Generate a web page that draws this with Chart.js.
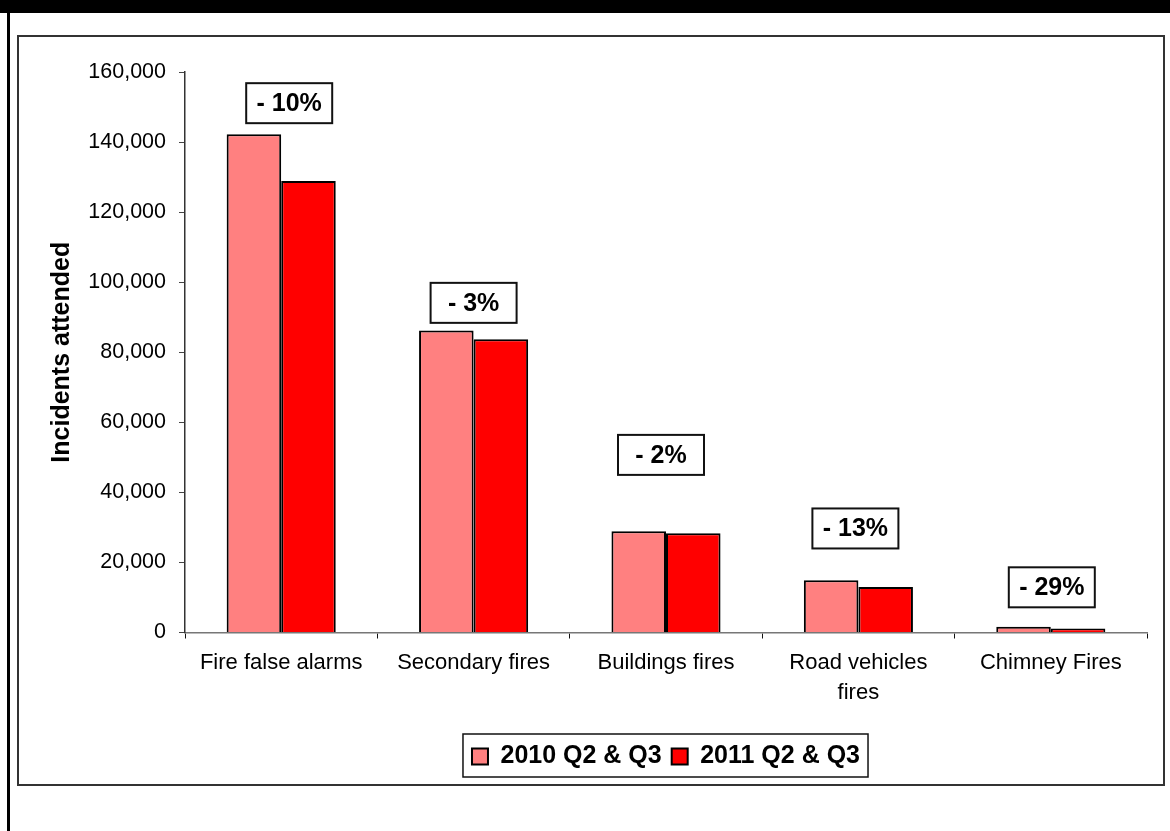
<!DOCTYPE html>
<html>
<head>
<meta charset="utf-8">
<title>Incidents attended</title>
<script src="https://cdn.jsdelivr.net/npm/chart.js@4/dist/chart.umd.min.js"></script>
<style>
    html, body {
        margin: 0;
        padding: 0;
        background: #fff;
        width: 1170px;
        height: 831px;
        overflow: hidden;
        position: relative;
    }
    .top-bar {
        position: absolute;
        left: 0; top: 0;
        width: 1170px; height: 13px;
        background: #000;
    }
    .left-rule {
        position: absolute;
        left: 7px; top: 0;
        width: 3px; height: 831px;
        background: #000;
    }
    .chart-frame {
        position: absolute;
        left: 17px; top: 35px;
        width: 1144px; height: 747px;
        border: 2px solid #333;
    }
    #chart {
        position: absolute;
        left: 0; top: 0;
    }
</style>
</head>
<body>
<div class="top-bar"></div>
<div class="left-rule"></div>
<div class="chart-frame"></div>
<canvas id="chart" width="1170" height="831"></canvas>

<script>
// Incident categories and totals for the two half-year periods
const categories = ['Fire false alarms', 'Secondary fires', 'Buildings fires', ['Road vehicles', 'fires'], 'Chimney Fires'];
const incidents2010 = [142200, 86200, 28900, 14900, 1650];
const incidents2011 = [128900, 83700, 28300, 13000, 1150];
const seriesNames = ['2010 Q2 & Q3', '2011 Q2 & Q3'];

// Change annotations, and the axis level each box sits at
const changeLabels = ['- 10%', '- 3%', '- 2%', '- 13%', '- 29%'];
const changeLabelLevels = [151100, 94100, 50700, 29700, 12900];

const yTicks = [0, 20000, 40000, 60000, 80000, 100000, 120000, 140000, 160000];

// small horizontal nudges for the change boxes (px)
const changeLabelShift = [8, 0, -5, -3, 1];

const FONT = "'Liberation Sans', Arial, sans-serif";

const changeBoxes = {
    id: 'changeBoxes',
    afterDatasetsDraw(chart) {
        const ctx = chart.ctx;
        const xs = chart.scales.x;
        const ys = chart.scales.y;
        ctx.save();
        ctx.font = 'bold 25px ' + FONT;
        ctx.textAlign = 'center';
        ctx.textBaseline = 'middle';
        changeLabels.forEach((txt, i) => {
            const cx = xs.getPixelForValue(i) + changeLabelShift[i];
            const cy = ys.getPixelForValue(changeLabelLevels[i]);
            const w = 86, h = 40;
            ctx.fillStyle = '#fff';
            ctx.fillRect(cx - w / 2, cy - h / 2, w, h);
            ctx.lineWidth = 2;
            ctx.strokeStyle = '#111';
            ctx.strokeRect(cx - w / 2, cy - h / 2, w, h);
            ctx.fillStyle = '#000';
            ctx.fillText(txt, cx, cy + 1);
        });
        ctx.restore();
    },
    afterDraw(chart) {
        // frame round the legend items
        const boxes = chart.legend.legendHitBoxes;
        if (!boxes || !boxes.length) return;
        const first = boxes[0];
        const last = boxes[boxes.length - 1];
        const ctx = chart.ctx;
        ctx.save();
        ctx.lineWidth = 1.5;
        ctx.strokeStyle = '#111';
        const left = first.left - 9;
        const right = last.left + last.width + 8;
        const top = first.top - 10;
        const bottom = first.top + first.height + 8;
        ctx.strokeRect(left, top, right - left, bottom - top);
        ctx.restore();
    }
};

new Chart(document.getElementById('chart').getContext('2d'), {
    type: 'bar',
    data: {
        labels: categories,
        datasets: [{
            label: seriesNames[0],
            data: incidents2010,
            backgroundColor: '#FF8080',
            borderColor: '#000',
            borderWidth: 2
        }, {
            label: seriesNames[1],
            data: incidents2011,
            backgroundColor: '#FF0000',
            borderColor: '#000',
            borderWidth: 2
        }]
    },
    options: {
        responsive: false,
        animation: false,
        events: [],
        layout: {
            padding: { left: 43, right: 23, top: 72, bottom: 52 }
        },
        datasets: {
            bar: {
                categoryPercentage: 0.567,
                barPercentage: 1.0
            }
        },
        scales: {
            x: {
                grid: {
                    offset: true,
                    drawOnChartArea: false,
                    drawTicks: true,
                    tickLength: 6,
                    color: '#111'
                },
                border: { color: '#777', width: 1.5 },
                ticks: {
                    color: '#000',
                    padding: 10,
                    maxRotation: 0,
                    font: { family: FONT, size: 22, lineHeight: 1.35 }
                },
                afterFit(scale) { scale.height = 101.5; }
            },
            y: {
                min: 0,
                max: 160000,
                afterBuildTicks(scale) {
                    scale.ticks = yTicks.map(v => ({ value: v }));
                },
                grid: {
                    drawOnChartArea: false,
                    drawTicks: true,
                    tickLength: 6,
                    color: '#444'
                },
                border: { color: '#333', width: 1.5 },
                ticks: {
                    color: '#000',
                    padding: 13,
                    font: { family: FONT, size: 21.5 },
                    callback: v => v.toLocaleString('en-US')
                },
                title: {
                    display: true,
                    text: 'Incidents attended',
                    color: '#000',
                    font: { family: FONT, size: 25, weight: 'bold' }
                },
                afterFit(scale) { scale.width = 142; }
            }
        },
        plugins: {
            legend: {
                position: 'bottom',
                fullSize: false,
                labels: {
                    color: '#000',
                    boxWidth: 16,
                    boxHeight: 16,
                    padding: 10,
                    font: { family: FONT, size: 25, weight: 'bold' }
                }
            },
            tooltip: { enabled: false }
        }
    },
    plugins: [changeBoxes]
});
</script>
</body>
</html>
